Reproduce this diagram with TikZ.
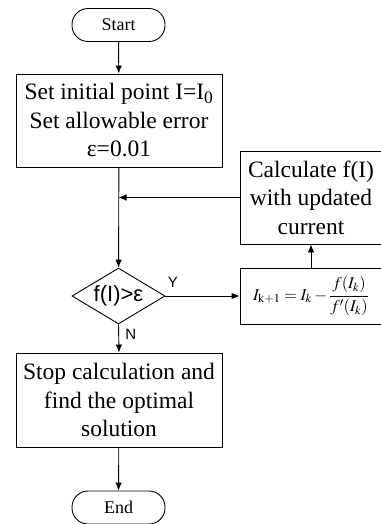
\documentclass[tikz,border=0pt]{standalone}
\usepackage{mathptmx}
\usepackage{fontspec}
\setmainfont{Liberation Serif}
\newfontfamily\arialfont{Liberation Sans}
\usetikzlibrary{shapes.geometric,arrows.meta}

\begin{document}
\begin{tikzpicture}[x=1pt,y=-1pt,line width=0.9pt,>={Latex[length=8pt,width=6.5pt]},
	term/.style={draw,rounded corners=16pt,minimum width=93pt,minimum height=33pt,font=\fontsize{18}{20}\selectfont},
	proc/.style={draw,align=center,inner sep=0pt,font=\fontsize{23.5}{28.5}\selectfont},
	cond/.style={draw,diamond,aspect=1.66,inner sep=0pt,minimum width=93pt,minimum height=56pt,font=\arialfont\fontsize{22}{24}\selectfont},
	yn/.style={font=\arialfont\fontsize{15}{16}\selectfont}]
		\useasboundingbox (0,0) rectangle (380,524);
		\node[term] (start) at (118.5,25) {Start};
		\node[proc,minimum width=206pt,minimum height=93pt] (init) at (119,120.5) {Set initial point I=I\textsubscript{0}\\Set allowable error\\ε=0.01};
		\node[cond] (dec) at (118.5,296) {f(I)>ε};
		\node[proc,minimum width=142pt,minimum height=93pt] (calc) at (311,197.5) {Calculate f(I)\\with updated\\current};
		\node[proc,minimum width=142pt,minimum height=56pt] (upd) at (311,296) {\fontsize{16.5}{19}\selectfont$\displaystyle I_{\mathrm{k+1}}=I_k-\frac{f(I_k)}{f'(I_k)}$};
		\node[proc,minimum width=206pt,minimum height=94pt] (stop) at (119,400) {Stop calculation and\\find the optimal\\solution};
		\node[term] (end) at (118.5,507.5) {End};
		\draw[->] (start) -- (init);
		\draw[->] (init) -- (dec);
		\draw[->] (calc.west) -- (calc.west -| dec.north);
		\draw[->] (dec.east) -- node[yn,pos=0.1,above=5pt] {Y} (upd.west);
		\draw[->] (upd) -- (calc);
		\draw[->] (dec.south) -- node[yn,pos=0.35,right=3pt] {N} (stop.north);
		\draw[->] (stop) -- (end);
	\end{tikzpicture}
\end{document}
